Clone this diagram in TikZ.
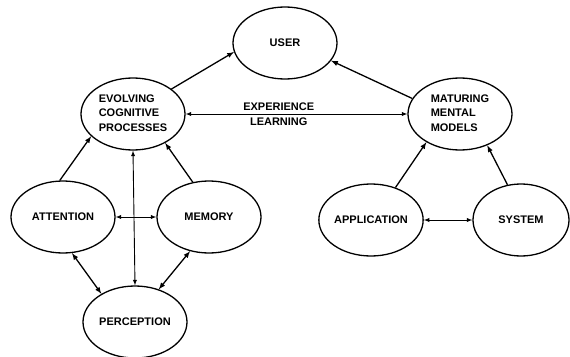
\documentclass[tikz,border=0pt]{standalone}
\usepackage{fontspec}
\setmainfont{Liberation Sans}
\usetikzlibrary{shapes.geometric}

\begin{document}
\begin{tikzpicture}[>=latex, x=1pt, y=-1pt,
    blob/.style={draw, ellipse, line width=1.3pt, minimum width=104pt, minimum height=72pt,
        inner sep=0pt, font=\bfseries\fontsize{11}{14.5}\selectfont, align=center},
    link/.style={line width=1.3pt},
    thinlink/.style={line width=0.9pt}]
    \useasboundingbox (0,0) rectangle (570,356);

    % Ellipsen
    \node[blob] (user) at (285,43) {USER};
    \node[blob] (evolving) at (133,114) {\begin{tabular}{@{}l@{}}EVOLVING\\COGNITIVE\\PROCESSES\end{tabular}};
    \node[blob] (maturing) at (460,114) {\begin{tabular}{@{}l@{}}MATURING\\MENTAL\\MODELS\end{tabular}};
    \node[blob] (attention) at (63,217) {ATTENTION};
    \node[blob] (memory) at (209,217) {MEMORY};
    \node[blob] (perception) at (135,322) {PERCEPTION};
    \node[blob] (application) at (371,220) {APPLICATION};
    \node[blob, minimum width=96pt] (system) at (521,220) {SYSTEM};

    % Pfeile
    \draw[link, ->] (evolving.33) -- (user.190);
    \draw[link, ->] (maturing.162) -- (user.339);
    \draw[thinlink, <->] (evolving.east) -- (maturing.west)
        node[pos=0.42, above, font=\bfseries\fontsize{11}{14}\selectfont] {EXPERIENCE}
        node[pos=0.42, below, font=\bfseries\fontsize{11}{14}\selectfont] {LEARNING};
    \draw[link, ->] (attention.95) -- (evolving.208);
    \draw[link, ->] (memory.115) -- (evolving.318);
    \draw[thinlink, <->] (evolving.south) -- (perception.north);
    \draw[thinlink, <->] (attention.east) -- (memory.west);
    \draw[link, <->] (attention.284) -- (perception.140);
    \draw[link, <->] (memory.241) -- (perception.54);
    \draw[link, ->] (application.53) -- (maturing.220);
    \draw[link, ->] (system.111) -- (maturing.311);
    \draw[thinlink, <->] (application.east) -- (system.west);
\end{tikzpicture}
\end{document}
